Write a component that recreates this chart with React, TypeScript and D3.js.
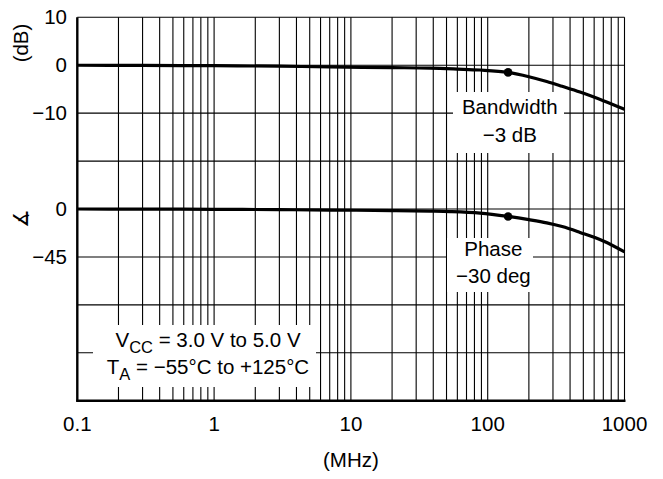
import React from "react";
import * as d3 from "d3";

// ---- data ----
const freqMHz = [0.1, 0.3, 1, 3, 7, 20, 38, 60, 88, 141, 200, 270, 350, 473, 700, 1000];
const gainDb = [0, -0.05, -0.1, -0.2, -0.35, -0.5, -0.6, -0.8, -1.0, -1.5, -2.4, -3.4, -4.4, -5.6, -7.4, -9.2];
const phaseFreqMHz = [0.1, 0.3, 1, 3, 7, 20, 38, 53, 88, 141, 200, 270, 350, 473, 700, 1000];
const phaseDeg = [0, -0.1, -0.3, -0.6, -1.0, -1.5, -2.0, -2.4, -3.8, -7.0, -10, -13, -16.5, -22, -30, -40.2];
const markerFreq = 141;
const xTickValues = [0.1, 1, 10, 100, 1000];
const xTickLabels = ["0.1", "1", "10", "100", "1000"];
const gainTickValues = [10, 0, -10];
const gainTickLabels = ["10", "0", "\u221210"];
const phaseTickValues = [0, -45];
const phaseTickLabels = ["0", "\u221245"];
const gainGridValues = [10, 0, -10, -20, -30, -40, -50, -60, -70];
const decades = [0.1, 1, 10, 100];
const multipliers = [1, 2, 3, 4, 5, 6, 7, 8, 9];

const W = 663;
const H = 479;
const FONT = "'Liberation Sans', Arial, Helvetica, sans-serif";

export default function App() {
  const left = 77.3, right = 624.5, top = 17.3, bottom = 400.7;
  const x = d3.scaleLog().domain([0.1, 1000]).range([left, right]);
  const yG = d3.scaleLinear().domain([10, -70]).range([top, bottom]);
  const yP = d3.scaleLinear().domain([180, -180]).range([top, bottom]);

  const vGrid: number[] = [];
  decades.forEach((d) => multipliers.forEach((m) => { if (!(d === 0.1 && m === 1)) vGrid.push(d * m); }));
  vGrid.push(1000);

  const gainPts = freqMHz.map((f, i) => [f, gainDb[i]] as [number, number]);
  const phasePts = phaseFreqMHz.map((f, i) => [f, phaseDeg[i]] as [number, number]);
  const gainLine = d3.line<[number, number]>().x((d) => x(d[0])).y((d) => yG(d[1])).curve(d3.curveMonotoneX);
  const phaseLine = d3.line<[number, number]>().x((d) => x(d[0])).y((d) => yP(d[1])).curve(d3.curveMonotoneX);

  const gainAt = (f: number) => {
    const s = d3.scaleLinear().domain(freqMHz.map(Math.log10)).range(gainDb);
    return s(Math.log10(f));
  };
  const phaseAt = (f: number) => {
    const s = d3.scaleLinear().domain(phaseFreqMHz.map(Math.log10)).range(phaseDeg);
    return s(Math.log10(f));
  };

  const fs = 20.5;
  const sub = 16.5;
  const bwX = x(145);
  const phX = x(110);
  const vcX = 208;

  return (
    <svg width={W} height={H} style={{ position: "absolute", left: 0, top: 0, background: "#fff" }} fontFamily={FONT}>
      <rect x={0} y={0} width={W} height={H} fill="#fff" />
      {/* grid */}
      {vGrid.map((f, i) => (
        <line key={"v" + i} x1={x(f)} x2={x(f)} y1={top} y2={bottom} stroke="#000" strokeWidth={1.1} />
      ))}
      {gainGridValues.map((g, i) => (
        <line key={"h" + i} x1={left} x2={right} y1={yG(g)} y2={yG(g)} stroke="#000" strokeWidth={1.1} />
      ))}
      {/* label masks */}
      <rect x={453} y={92} width={111} height={61} fill="#fff" />
      <rect x={447} y={238} width={86} height={54} fill="#fff" />
      <rect x={93} y={325} width={223} height={62} fill="#fff" />
      {/* axes */}
      <line x1={left} x2={left} y1={top} y2={bottom + 1} stroke="#000" strokeWidth={2.4} />
      <line x1={left - 1} x2={right + 1} y1={bottom} y2={bottom} stroke="#000" strokeWidth={2.4} />
      {/* curves */}
      <path d={gainLine(gainPts) || ""} fill="none" stroke="#000" strokeWidth={3.2} />
      <path d={phaseLine(phasePts) || ""} fill="none" stroke="#000" strokeWidth={3.2} />
      <circle cx={x(markerFreq)} cy={yG(gainAt(markerFreq))} r={4.3} fill="#000" />
      <circle cx={x(markerFreq)} cy={yP(phaseAt(markerFreq))} r={4.3} fill="#000" />
      {/* y tick labels */}
      <g fontSize={fs} fill="#000" textAnchor="end">
        {gainTickValues.map((v, i) => (
          <text key={"g" + i} x={67} y={yG(v) + 7}>{gainTickLabels[i]}</text>
        ))}
        {phaseTickValues.map((v, i) => (
          <text key={"p" + i} x={67} y={yP(v) + 7}>{phaseTickLabels[i]}</text>
        ))}
      </g>
      <text transform={`translate(28,43) rotate(-90)`} fontSize={fs} textAnchor="middle">(dB)</text>
      <text transform={`translate(28,218) rotate(-90)`} fontSize={fs} textAnchor="middle">∡</text>
      {/* x tick labels */}
      <g fontSize={fs} fill="#000" textAnchor="middle">
        {xTickValues.map((v, i) => (
          <text key={"x" + i} x={x(v)} y={431}>{xTickLabels[i]}</text>
        ))}
      </g>
      <text x={x(10)} y={467} fontSize={fs} textAnchor="middle">(MHz)</text>
      {/* annotations */}
      <g fontSize={fs} textAnchor="middle">
        <text x={bwX} y={114}>Bandwidth</text>
        <text x={bwX} y={141.5}>{"\u22123 dB"}</text>
        <text x={phX} y={255.5}>Phase</text>
        <text x={phX} y={282.5}>{"\u221230 deg"}</text>
        <text x={vcX} y={347}>
          V<tspan fontSize={sub} dy={6}>CC</tspan><tspan dy={-6}> = 3.0 V to 5.0 V</tspan>
        </text>
        <text x={vcX} y={373.5}>
          T<tspan fontSize={sub} dy={6.5}>A</tspan><tspan dy={-6.5}>{" = \u221255\u00B0C to +125\u00B0C"}</tspan>
        </text>
      </g>
    </svg>
  );
}
